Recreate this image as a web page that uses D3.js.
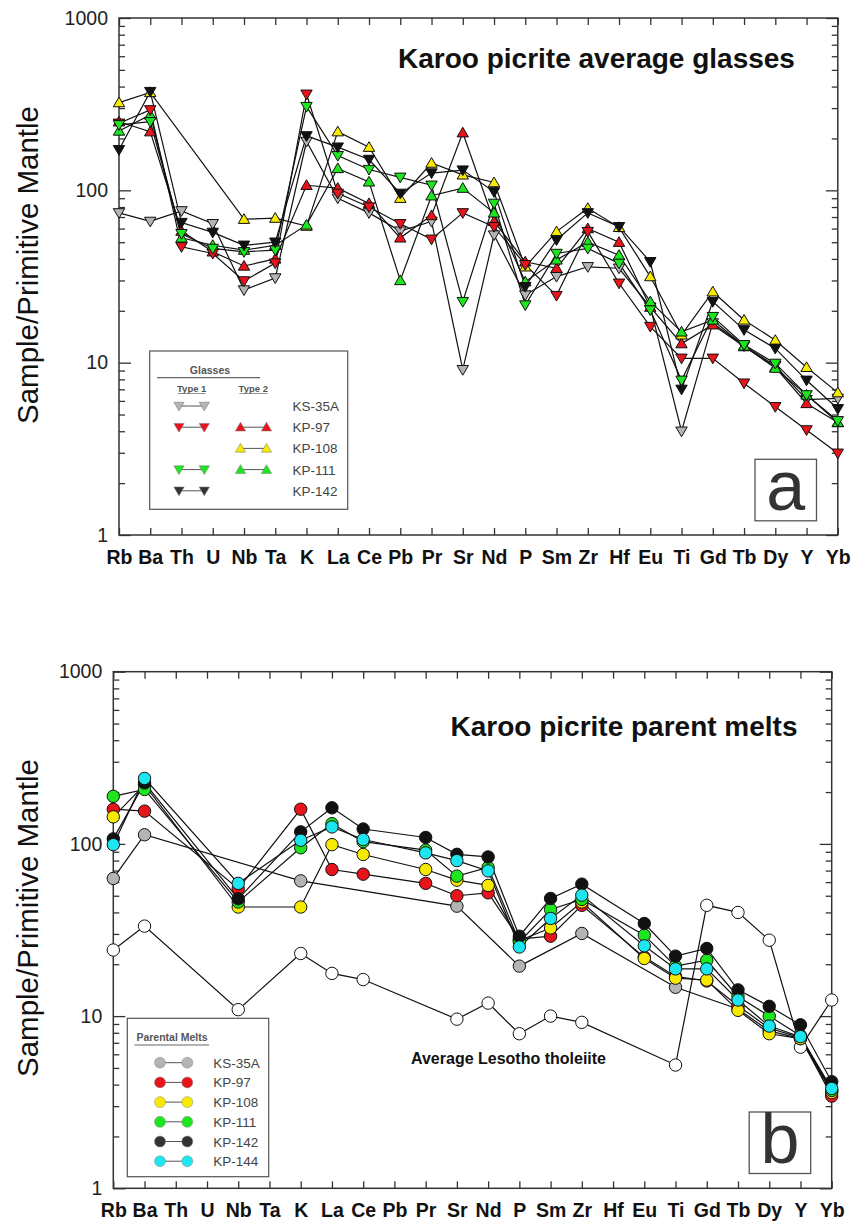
<!DOCTYPE html>
<html>
<head>
<meta charset="utf-8">
<script src="https://cdn.jsdelivr.net/npm/d3@7"></script>
<style>
body { margin: 0; background: #fff; }
svg text { font-family: "Liberation Sans", Arial, sans-serif; }
</style>
</head>
<body>
<div id="vis"></div>
<script>

var elements = ['Rb', 'Ba', 'Th', 'U', 'Nb', 'Ta', 'K', 'La', 'Ce', 'Pb', 'Pr', 'Sr', 'Nd', 'P', 'Sm', 'Zr', 'Hf', 'Eu', 'Ti', 'Gd', 'Tb', 'Dy', 'Y', 'Yb'];
var yTicks = [1, 10, 100, 1000];

// panel a - average glasses (Type 1 = down triangles, Type 2 = up triangles)
//                Rb   Ba   Th   U    Nb    Ta   K    La   Ce   Pb   Pr   Sr   Nd   P    Sm   Zr   Hf   Eu   Ti   Gd   Tb   Dy   Y    Yb
var ks35a_t1 = [74, 66, 76, 64, 26.4, 31, 192, 90, 74, 58, 66, 9.1, 55, 24.7, 31.6, 36, 35.3, 21, 4.0, 17, 12.5, 9.6, 6.1, 6.2];
var kp97_t1 = [245, 293, 47, 43, 29.8, 37.8, 361, 96, 80, 64, 52, 74, 61.5, 37, 24.5, 57.6, 28.9, 16.2, 10.6, 10.6, 7.6, 5.55, 4.07, 2.98];
var kp97_t2 = [250, 219, 58, 44, 36.4, 40, 107, 103, 84, 53, 71.5, 216, 66, 38.5, 35.3, 60, 50, 21, 12.9, 16.6, 12.4, 9.4, 5.8, 4.5];
var kp108_t2 = [323, 370, null, null, 68, 69, 62, 219, 178, 90, 144, 123, 111, 36, 57.6, 78.7, 61, 31.6, 14.5, 25.8, 17.7, 13.5, 9.4, 6.7];
var kp111_t1 = [240, 250, 56, 46, 44, 45, 306, 159, 132, 119, 107, 22.6, 84, 21.6, 43, 46, 37.7, 20.2, 7.9, 18.5, 12.7, 9.9, 6.5, 4.6];
var kp111_t2 = [221, 274, 53, 48, 45, 48, 63, 134, 112, 30, 93, 103, 74, 29.5, 39.5, 50, 42, 22.6, 15.1, 17.7, 12.5, 9.3, 6.5, 4.5];
var kp142_t1 = [172, 374, 65, 57, 48, 50, 207, 178, 151, 96, 126, 131, 98, 27.6, 51.5, 74, 61.5, 38.5, 7.0, 22.6, 15.5, 12.1, 7.9, 5.4];

// panel b - parental melts
var ks35a_pm = [63, 113, null, null, null, null, 61, null, null, null, null, 43.5, null, 19.5, null, 30.2, null, null, 14.7, null, 11, 8.2, 7.4, 3.7];
var kp97_pm = [159, 155, null, null, 55, null, 159, 71, 66.7, null, 59, 50, 52, 28, 29.1, 44, null, 22, 17, 16, 11.5, 8.5, 7.5, 3.43];
var kp108_pm = [143.6, 220, null, null, 43, null, 43, 99, 86.8, null, 71, 61.6, 57.4, 27.5, 32.5, 46, null, 21.6, 16.6, 16.2, 10.8, 7.9, 7.4, 3.6];
var kp111_pm = [189, 207, null, null, 46, null, 95, 131, 103, null, 92, 65, 73, 27, 41.6, 47.6, null, 29.5, 19.5, 21.1, 13, 10, 7.7, 3.7];
var kp142_pm = [107, 226, null, null, 48, null, 117.5, 162, 122, null, 109, 87, 84, 29.1, 48.2, 58.4, null, 34.5, 22.3, 24.7, 14.2, 11.4, 8.9, 4.16];
var kp144_pm = [99, 240, null, null, 59, null, 105, 125.5, 106, null, 88.7, 80, 69.7, 25.2, 36.9, 50.4, null, 25.6, 18.8, 18.8, 12.4, 8.75, 7.6, 3.8];
var lesotho = [24.2, 33.3, null, null, 10.9, null, 23.1, 17.7, 16.3, null, null, 9.6, 11.9, 7.9, 10.0, 9.2, null, null, 5.2, 44, 40, 27.6, 6.6, 12.4];

var grey = '#b4b4b4', red = '#e8141b', yellow = '#f7ea00', green = '#1ee61e', black = '#111111', cyan = '#1ee6f0';

var seriesA = [
    { name: 'KS-35A', type: 1, color: grey, values: ks35a_t1 },
    { name: 'KP-97', type: 2, color: red, values: kp97_t2 },
    { name: 'KP-108', type: 2, color: yellow, values: kp108_t2 },
    { name: 'KP-111', type: 2, color: green, values: kp111_t2 },
    { name: 'KP-97', type: 1, color: red, values: kp97_t1 },
    { name: 'KP-111', type: 1, color: green, values: kp111_t1 },
    { name: 'KP-142', type: 1, color: black, values: kp142_t1 }
];
var legendNamesA = ['KS-35A', 'KP-97', 'KP-108', 'KP-111', 'KP-142'];

var seriesB = [
    { name: 'Lesotho', color: '#fff', values: lesotho },
    { name: 'KS-35A', color: grey, values: ks35a_pm },
    { name: 'KP-97', color: red, values: kp97_pm },
    { name: 'KP-108', color: yellow, values: kp108_pm },
    { name: 'KP-111', color: green, values: kp111_pm },
    { name: 'KP-142', color: black, values: kp142_pm },
    { name: 'KP-144', color: cyan, values: kp144_pm }
];

var width = 857, height = 1222;

var svg = d3.select('#vis')
    .append('svg')
    .attr('width', width)
    .attr('height', height);

var triUp = 'M0,-5.5L5.7,4.2L-5.7,4.2Z';
var triDown = 'M0,5.5L5.7,-4.2L-5.7,-4.2Z';

function pts(values) {
    return elements.map(function(e, i) { return { e: e, v: values[i] }; })
        .filter(function(d) { return d.v != null; });
}

function frame(p) {
    var x = d3.scalePoint().domain(elements).range([p.left, p.right]);
    var y = d3.scaleLog().domain([1, 1000]).range([p.bottom, p.top]);
    var minor = [];
    [1, 10, 100].forEach(function(d) { for (var k = 2; k < 10; k++) minor.push(d * k); });

    function clean(g) {
        g.select('.domain').remove();
        g.selectAll('line').attr('stroke', '#333').attr('stroke-width', 1.3);
        g.attr('font-family', null);
    }

    svg.append('g')
        .attr('transform', 'translate(0,' + p.bottom + ')')
        .call(d3.axisBottom(x).tickSizeInner(-7).tickSizeOuter(0).tickPadding(15))
        .call(clean)
        .attr('font-size', 19.5).attr('font-weight', 'bold').attr('color', '#111');

    svg.append('g')
        .attr('transform', 'translate(0,' + p.top + ')')
        .call(d3.axisTop(x).tickSizeInner(-7).tickSizeOuter(0).tickFormat(''))
        .call(clean);

    svg.append('g')
        .attr('transform', 'translate(' + p.left + ',0)')
        .call(d3.axisLeft(y).tickValues(yTicks).tickSizeInner(-12).tickSizeOuter(0).tickPadding(11).tickFormat(d3.format('d')))
        .call(clean)
        .attr('font-size', 19.5).attr('color', '#222');

    svg.append('g')
        .attr('transform', 'translate(' + p.left + ',0)')
        .call(d3.axisLeft(y).tickValues(minor).tickSizeInner(-6).tickSizeOuter(0).tickFormat(''))
        .call(clean);

    svg.append('g')
        .attr('transform', 'translate(' + p.right + ',0)')
        .call(d3.axisRight(y).tickValues(yTicks).tickSizeInner(-12).tickSizeOuter(0).tickFormat(''))
        .call(clean);

    svg.append('g')
        .attr('transform', 'translate(' + p.right + ',0)')
        .call(d3.axisRight(y).tickValues(minor).tickSizeInner(-6).tickSizeOuter(0).tickFormat(''))
        .call(clean);

    svg.append('rect')
        .attr('x', p.left).attr('y', p.top)
        .attr('width', p.right - p.left).attr('height', p.bottom - p.top)
        .attr('fill', 'none').attr('stroke', '#333').attr('stroke-width', 1.5);

    svg.append('text')
        .attr('transform', 'translate(38,' + p.labelY + ') rotate(-90)')
        .attr('text-anchor', 'middle')
        .attr('font-size', 29.5)
        .attr('fill', '#111')
        .text('Sample/Primitive Mantle');

    return { x: x, y: y };
}

function drawLines(g, series, sc) {
    var line = d3.line()
        .x(function(d) { return sc.x(d.e); })
        .y(function(d) { return sc.y(d.v); });
    g.selectAll('.series-line')
        .data(series)
        .enter()
        .append('path')
        .attr('class', 'series-line')
        .attr('d', function(s) { return line(pts(s.values)); })
        .attr('fill', 'none')
        .attr('stroke', '#111')
        .attr('stroke-width', 1.2);
}

function panelLabel(x0, y0, letter) {
    svg.append('rect')
        .attr('x', x0).attr('y', y0).attr('width', 61.5).attr('height', 61.5)
        .attr('fill', '#fff').attr('stroke', '#555').attr('stroke-width', 1.3);
    svg.append('text')
        .attr('x', x0 + 30.75).attr('y', y0 + 51)
        .attr('text-anchor', 'middle')
        .attr('font-size', 70)
        .attr('fill', '#333')
        .text(letter);
}

// ---------- panel a ----------
var pa = { left: 119, right: 837.8, top: 18, bottom: 535, labelY: 265 };
var sa = frame(pa);
var ga = svg.append('g');
drawLines(ga, seriesA, sa);

seriesA.forEach(function(s) {
    ga.append('g')
        .selectAll('path')
        .data(pts(s.values))
        .enter()
        .append('path')
        .attr('transform', function(d) { return 'translate(' + sa.x(d.e) + ',' + sa.y(d.v) + ')'; })
        .attr('d', s.type == 1 ? triDown : triUp)
        .attr('fill', s.color)
        .attr('stroke', '#111')
        .attr('stroke-width', 1);
});

svg.append('text')
    .attr('x', 596.5).attr('y', 68)
    .attr('text-anchor', 'middle')
    .attr('font-size', 28).attr('font-weight', 'bold')
    .attr('fill', '#111')
    .text('Karoo picrite average glasses');

// legend a
var la = svg.append('g');
la.append('rect')
    .attr('x', 149.7).attr('y', 351).attr('width', 198).attr('height', 158.3)
    .attr('fill', '#fff').attr('stroke', '#555').attr('stroke-width', 1.2);
la.append('text').attr('x', 210).attr('y', 374).attr('text-anchor', 'middle')
    .attr('font-size', 10.5).attr('font-weight', 'bold').attr('fill', '#555').text('Glasses');
la.append('line').attr('x1', 157).attr('x2', 260).attr('y1', 377.7).attr('y2', 377.7)
    .attr('stroke', '#666').attr('stroke-width', 1.3);
[[191.7, 'Type 1'], [253.3, 'Type 2']].forEach(function(t) {
    la.append('text').attr('x', t[0]).attr('y', 391.5).attr('text-anchor', 'middle')
        .attr('font-size', 9.5).attr('font-weight', 'bold').attr('fill', '#555').text(t[1]);
    la.append('line').attr('x1', t[0] - 14).attr('x2', t[0] + 14).attr('y1', 393.5).attr('y2', 393.5)
        .attr('stroke', '#777').attr('stroke-width', 0.8);
});
legendNamesA.forEach(function(name, i) {
    var yy = 406 + i * 21.2;
    seriesA.filter(function(s) { return s.name == name; }).forEach(function(s) {
        var xs = s.type == 1 ? [179, 204.3] : [240.5, 266.5];
        la.append('line').attr('x1', xs[0]).attr('x2', xs[1]).attr('y1', yy).attr('y2', yy)
            .attr('stroke', '#555').attr('stroke-width', 1);
        xs.forEach(function(xx) {
            la.append('path')
                .attr('transform', 'translate(' + xx + ',' + yy + ') scale(0.9)')
                .attr('d', s.type == 1 ? triDown : triUp)
                .attr('fill', s.color == black ? '#333' : s.color)
                .attr('stroke', '#777').attr('stroke-width', 0.6);
        });
    });
    la.append('text').attr('x', 292.5).attr('y', yy + 5)
        .attr('font-size', 13.5).attr('fill', '#444').text(name);
});

panelLabel(755, 459.3, 'a');

// ---------- panel b ----------
var pb = { left: 113.3, right: 831.7, top: 671.7, bottom: 1188.3, labelY: 918 };
var sb = frame(pb);
var gb = svg.append('g');
drawLines(gb, seriesB, sb);

seriesB.forEach(function(s) {
    gb.append('g')
        .selectAll('circle')
        .data(pts(s.values))
        .enter()
        .append('circle')
        .attr('cx', function(d) { return sb.x(d.e); })
        .attr('cy', function(d) { return sb.y(d.v); })
        .attr('r', 6.2)
        .attr('fill', s.color)
        .attr('stroke', '#111')
        .attr('stroke-width', 1);
});

svg.append('text')
    .attr('x', 624).attr('y', 736)
    .attr('text-anchor', 'middle')
    .attr('font-size', 28).attr('font-weight', 'bold')
    .attr('fill', '#111')
    .text('Karoo picrite parent melts');

svg.append('text')
    .attr('x', 411).attr('y', 1064)
    .attr('font-size', 16).attr('font-weight', 'bold')
    .attr('fill', '#111')
    .text('Average Lesotho tholeiite');

// legend b
var lb = svg.append('g');
lb.append('rect')
    .attr('x', 127.3).attr('y', 1018.3).attr('width', 141.4).attr('height', 158.4)
    .attr('fill', '#fff').attr('stroke', '#555').attr('stroke-width', 1.2);
lb.append('text').attr('x', 172).attr('y', 1041).attr('text-anchor', 'middle')
    .attr('font-size', 10.5).attr('font-weight', 'bold').attr('fill', '#555').text('Parental Melts');
lb.append('line').attr('x1', 134.5).attr('x2', 209).attr('y1', 1045).attr('y2', 1045)
    .attr('stroke', '#666').attr('stroke-width', 1.2);
seriesB.slice(1).forEach(function(s, i) {
    var yy = 1062.7 + i * 19.7;
    lb.append('line').attr('x1', 160).attr('x2', 187.3).attr('y1', yy).attr('y2', yy)
        .attr('stroke', '#555').attr('stroke-width', 1);
    [160, 187.3].forEach(function(xx) {
        lb.append('circle').attr('cx', xx).attr('cy', yy).attr('r', 5.5)
            .attr('fill', s.color == black ? '#333' : s.color)
            .attr('stroke', '#888').attr('stroke-width', 0.5);
    });
    lb.append('text').attr('x', 213.3).attr('y', yy + 5)
        .attr('font-size', 13.5).attr('fill', '#444').text(s.name);
});

panelLabel(749.2, 1112, 'b');

</script>
</body>
</html>
